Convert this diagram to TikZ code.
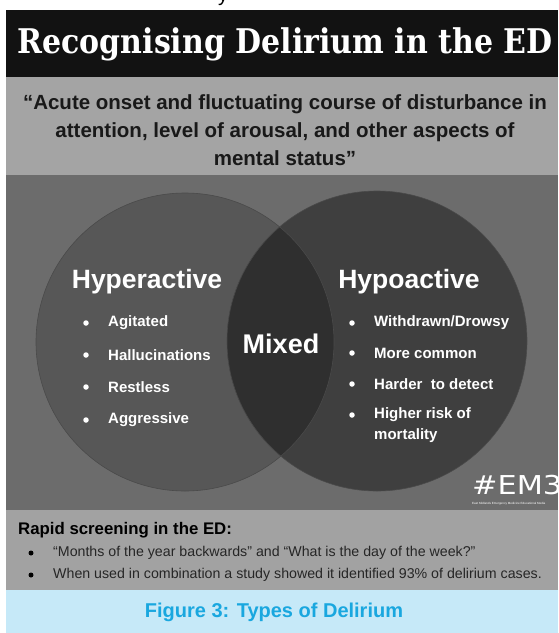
\documentclass[tikz,border=0pt]{standalone}
\usepackage{fontspec}
\setmainfont{Liberation Sans}
\newfontfamily\slabfont{DejaVu Serif}
\newfontfamily\brandfont{DejaVu Sans}
\definecolor{headbg}{HTML}{121212}
\definecolor{quotebg}{HTML}{A4A4A4}
\definecolor{vennbg}{HTML}{6C6C6C}
\definecolor{hyperfill}{HTML}{575757}
\definecolor{hypofill}{HTML}{3F3F3F}
\definecolor{mixfill}{HTML}{2F2F2F}
\definecolor{ringline}{HTML}{4A4A4A}
\definecolor{screenbg}{HTML}{A2A2A2}
\definecolor{capbg}{HTML}{C6E9F8}
\definecolor{captext}{HTML}{19A7DF}
\tikzset{
  heading/.style={inner sep=0pt, text=white, font=\fontsize{26.5}{32}\selectfont\bfseries},
  item/.style={anchor=west, inner sep=0pt, text=white, font=\fontsize{15}{19}\selectfont\bfseries},
  dot/.style={circle, fill=white, inner sep=0pt, minimum size=5.5pt},
  note/.style={anchor=west, inner sep=0pt, text=black!85, font=\fontsize{14.2}{18}\selectfont},
  bdot/.style={circle, fill=black, inner sep=0pt, minimum size=5pt},
}
\begin{document}
\begin{tikzpicture}[x=1pt, y=-1pt]
\useasboundingbox (0,0) rectangle (558,633);
\fill[white] (0,0) rectangle (558,633);

% stray descender from the line above
\begin{scope}
  \clip (0,0) rectangle (558,10);
  \node[anchor=base, inner sep=0pt, font=\fontsize{20}{24}\selectfont] (stray) at (223,1) {y};
\end{scope}

% bands
\fill[headbg] (6,10) rectangle (558,77);
\fill[quotebg] (6,77) rectangle (558,175);
\fill[vennbg] (6,175) rectangle (558,510);
\fill[screenbg] (6,510) rectangle (558,590);
\fill[capbg] (6,590) rectangle (558,633);

% title
\node[inner sep=0pt, text=white, font=\slabfont\fontsize{34}{40}\selectfont\bfseries] (title) at (285,44)
  {\resizebox{535pt}{\height}{Recognising Delirium in the ED}};

% definition quote
\node[inner sep=0pt, align=center, font=\fontsize{20.5}{28}\selectfont\bfseries, text=black!90] (quote) at (285,130)
  {“Acute onset and fluctuating course of disturbance in\\attention, level of arousal, and other aspects of\\mental status”};

% Venn diagram
\fill[hyperfill] (185,342) circle (149);
\fill[hypofill] (377,341) circle (150);
\begin{scope}
  \clip (185,342) circle (149);
  \fill[mixfill] (377,341) circle (150);
\end{scope}
\draw[ringline, line width=0.6pt] (185,342) circle (149);
\draw[ringline, line width=0.6pt] (377,341) circle (150);

\node[heading] (hyper) at (147,282) {Hyperactive};
\node[heading] (hypo) at (409,282) {Hypoactive};
\node[heading, font=\fontsize{27}{32}\selectfont\bfseries] (mixed) at (281,344) {Mixed};

\foreach \t/\y [count=\i] in {Agitated/323, Hallucinations/355, Restless/387, Aggressive/420}{
  \node[dot] (ld\i) at (86,\y) {};
  \node[item] (lt\i) at (108,\y) {\t};
}
\foreach \t/\y [count=\i] in {{Withdrawn/Drowsy}/323, {More common}/353, {Harder\ \ to detect}/384}{
  \node[dot] (rd\i) at (352,\y) {};
  \node[item] (rt\i) at (374,\y) {\t};
}
\node[dot] (rd4) at (352,415) {};
\node[item, align=left, font=\fontsize{15}{21.5}\selectfont\bfseries] (rt4) at (374,425) {Higher risk of\\mortality};

% branding
\begin{scope}
  \clip (6,175) rectangle (558,510);
  \node[anchor=west, inner sep=0pt, text=white, font=\brandfont\fontsize{26}{30}\selectfont] (brand) at (472,485)
    {\resizebox{90pt}{\height}{\#EM3}};
  \node[anchor=west, inner sep=0pt, text=white!85, font=\fontsize{3}{4}\selectfont] (brandsub) at (472,504) {East Midlands Emergency Medicine Educational Media};
\end{scope}

% screening notes
\node[anchor=west, inner sep=0pt, font=\fontsize{16.8}{21}\selectfont\bfseries] (screen) at (18,530) {Rapid screening in the ED:};
\node[bdot] (sd1) at (31,553) {};
\node[note] (st1) at (53,553) {“Months of the year backwards” and “What is the day of the week?”};
\node[bdot] (sd2) at (31,575) {};
\node[note] (st2) at (53,575) {When used in combination a study showed it identified 93\% of delirium cases.};

% caption
\node[inner sep=0pt, text=captext, font=\fontsize{20}{24}\selectfont\bfseries] (caption) at (274,612) {Figure 3: Types of Delirium};
\end{tikzpicture}
\end{document}
